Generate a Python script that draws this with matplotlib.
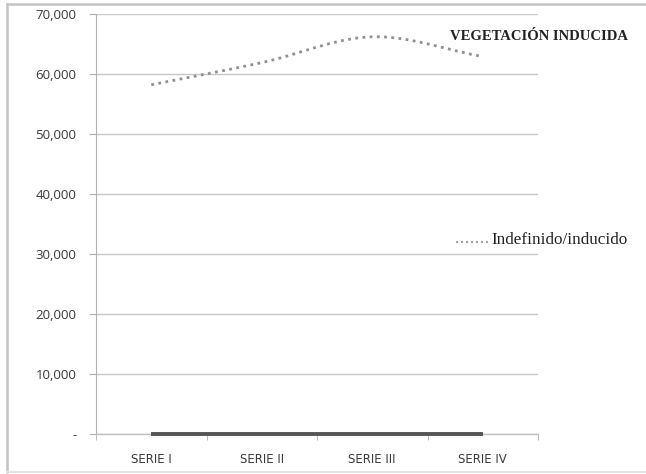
import numpy as np
import matplotlib.pyplot as plt
from matplotlib.lines import Line2D

categories = ["SERIE I", "SERIE II", "SERIE III", "SERIE IV"]
induced = [58200, 61900, 66200, 62900]
baseline = [0, 0, 0, 0]
y_ticks = [0, 10000, 20000, 30000, 40000, 50000, 60000, 70000]
y_labels = ["-", "10,000", "20,000", "30,000", "40,000", "50,000", "60,000", "70,000"]
title = "VEGETACIÓN INDUCIDA"
series_name = "Indefinido/inducido"


def smooth(xs, ys, n=30):
    # Catmull-Rom curve through the points, like a spreadsheet "smoothed line"
    xs = np.asarray(xs, float)
    ys = np.asarray(ys, float)
    px = np.concatenate([[2 * xs[0] - xs[1]], xs, [2 * xs[-1] - xs[-2]]])
    py = np.concatenate([[2 * ys[0] - ys[1]], ys, [2 * ys[-1] - ys[-2]]])
    ox, oy = [], []
    for i in range(1, len(px) - 2):
        t = np.linspace(0, 1, n, endpoint=(i == len(px) - 3))
        for p, out in ((px, ox), (py, oy)):
            p0, p1, p2, p3 = p[i - 1], p[i], p[i + 1], p[i + 2]
            out.extend(0.5 * (2 * p1 + (-p0 + p2) * t
                              + (2 * p0 - 5 * p1 + 4 * p2 - p3) * t ** 2
                              + (-p0 + 3 * p1 - 3 * p2 + p3) * t ** 3))
    return np.array(ox), np.array(oy)


W, H = 646, 474
fig = plt.figure(figsize=(W / 100, H / 100), dpi=100)
fig.patch.set_facecolor("white")


def fig_line(x0, y0, x1, y1, color, lw):
    fig.add_artist(Line2D([x0 / W, x1 / W], [1 - y0 / H, 1 - y1 / H],
                          transform=fig.transFigure, color=color, linewidth=lw))


# outer chart frame: top, left and bottom edges
fig_line(7, 4, W, 4, "#c4c4c4", 1.8)
fig_line(7, 4, 7, 472, "#c4c4c4", 1.8)
fig_line(7, 472, W, 472, "#e4e4e4", 1.5)

ax = fig.add_axes([96 / W, 1 - 434 / H, (538 - 96) / W, (434 - 14) / H])
x = np.arange(len(categories))
ax.set_xlim(-0.5, len(categories) - 0.5)
ax.set_ylim(0, 70000)

ax.set_yticks(y_ticks)
ax.set_yticklabels(y_labels, fontsize=9.5, color="#3a3a3a", family="Open Sans")
ax.yaxis.grid(True, color="#c8c8c8", linewidth=1.0)
ax.set_axisbelow(True)
ax.tick_params(axis="y", length=5, color="#b0b0b0", pad=9)

ax.set_xticks(x)
ax.set_xticklabels(categories, fontsize=8.5, color="#3a3a3a",
                   family=["Liberation Sans Narrow", "DejaVu Sans"])
ax.set_xticks(np.arange(len(categories) + 1) - 0.5, minor=True)
ax.tick_params(axis="x", which="major", length=0, pad=14)
ax.tick_params(axis="x", which="minor", length=4, color="#b0b0b0", direction="out")

for s in ("top", "right"):
    ax.spines[s].set_visible(False)
ax.spines["left"].set_color("#b0b0b0")
ax.spines["bottom"].set_color("#c0c0c0")
ax.spines["bottom"].set_linewidth(1.0)

sx, sy = smooth(x, induced)
ax.plot(sx, sy, linestyle=(0, (1, 1.6)), color="#909090", linewidth=2.0,
        clip_on=False)
ax.plot(x, baseline, color="#555555", linewidth=2.8, solid_capstyle="butt",
        clip_on=False, zorder=5)

fig.text(628 / W, 1 - 37 / H, title, ha="right", va="center", fontsize=10.5,
         fontweight="bold", color="#222222", family="Liberation Serif")

# legend entry
ly = 1 - 240 / H
fig.add_artist(Line2D([456 / W, 491 / W], [ly - 0.004, ly - 0.004],
                      transform=fig.transFigure, color="#a0a0a0",
                      linestyle=(0, (1, 1.4)), linewidth=1.5))
fig.text(491 / W, ly, series_name, ha="left", va="center", fontsize=12.3,
         color="#222222", family="Liberation Serif")

fig.savefig("out.png", dpi=100)
